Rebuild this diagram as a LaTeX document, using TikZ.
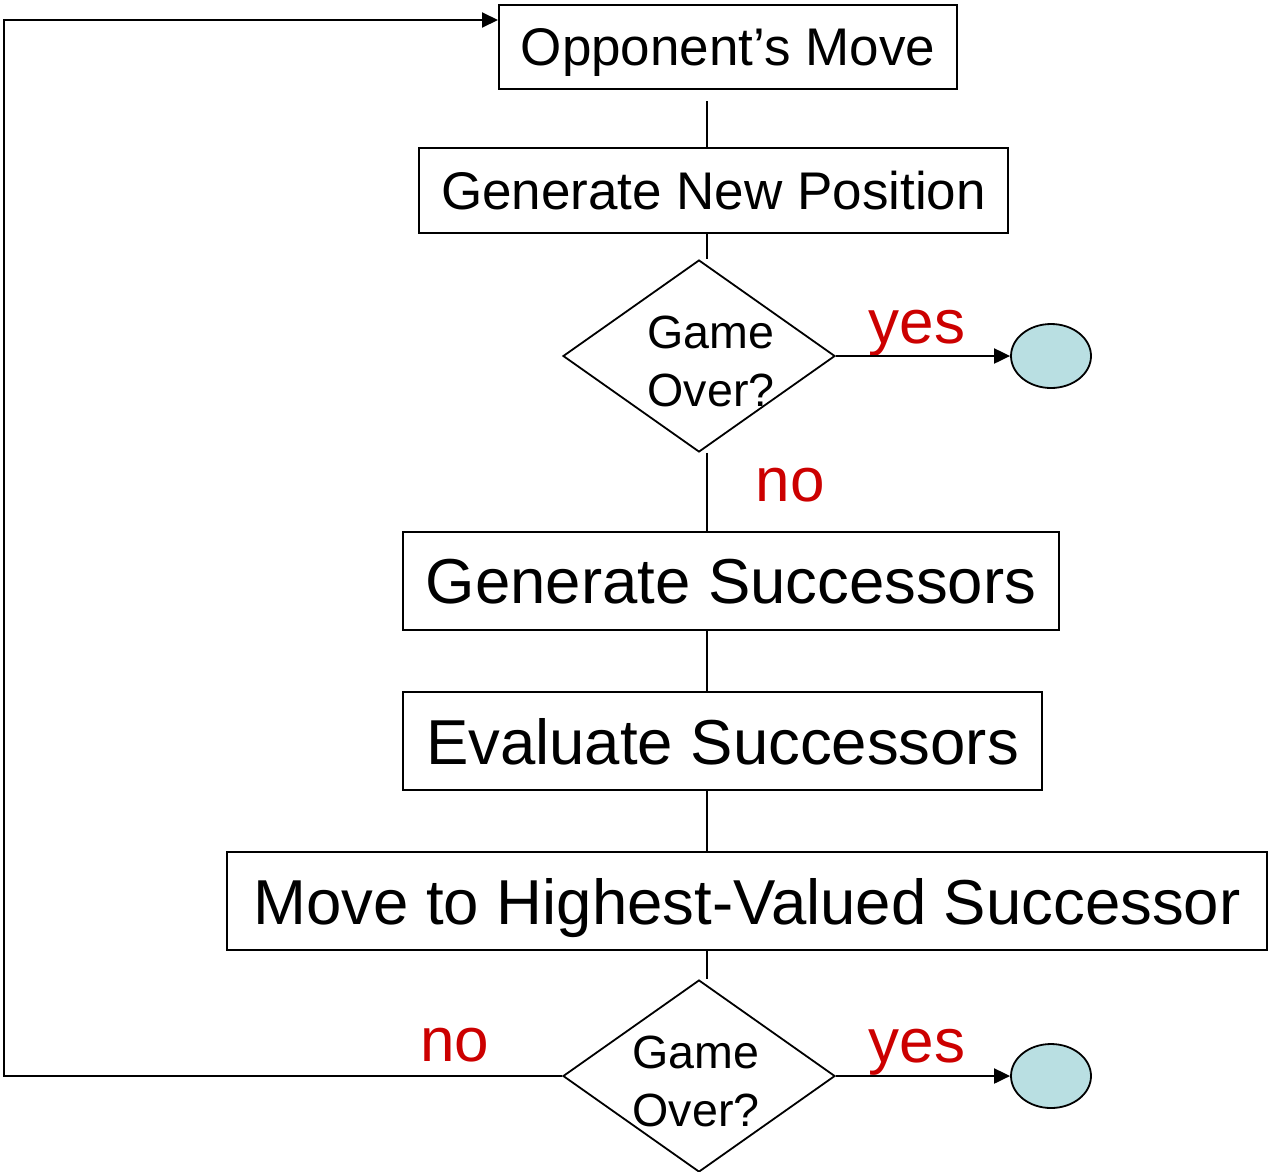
\documentclass[tikz,border=0pt]{standalone}
\usepackage{fontspec}
\setmainfont{Liberation Sans}
\usetikzlibrary{shapes.geometric,arrows.meta}
\definecolor{termfill}{HTML}{B9DFE2}
\definecolor{lblred}{HTML}{CC0000}
\begin{document}
\begin{tikzpicture}[x=1pt,y=-1pt,line width=2pt,
  box/.style={draw,line width=2pt,inner sep=0pt,text depth=0pt,fill=white},
  fmid/.style={font=\fontsize{53}{60}\selectfont},
  fbig/.style={font=\fontsize{63.5}{72}\selectfont},
  dia/.style={draw,diamond,line width=1.8pt,inner sep=0pt,minimum width=272pt,minimum height=192pt},
  dtext/.style={align=center,inner sep=0pt,font=\fontsize{46.6}{58}\selectfont},
  term/.style={draw,ellipse,line width=1.8pt,fill=termfill,minimum width=80pt,minimum height=64pt,inner sep=0pt},
  lbl/.style={text=lblred,anchor=base,inner sep=0pt,font=\fontsize{62}{70}\selectfont},
  arr/.style={-{Triangle[length=16pt,width=15pt]}}]
\useasboundingbox (0,0) rectangle (1268,1171);
\coordinate (sp) at (707,0);
\node[box,fmid,minimum width=458pt,minimum height=84pt] (b1) at (728,47) {Opponent’s Move};
\node[box,fmid,minimum width=589pt,minimum height=85pt] (b2) at (713.5,190.5) {Generate New Position};
\node[dia] (d1) at (699,356) {};
\node[dtext] (t1) at (711,361) {Game\\Over?};
\node[term] (e1) at (1051,356) {};
\node[box,fbig,minimum width=656pt,minimum height=98pt] (b3) at (731,581) {Generate Successors};
\node[box,fbig,minimum width=639pt,minimum height=98pt] (b4) at (722.5,741) {Evaluate Successors};
\node[box,fbig,minimum width=1040pt,minimum height=98pt] (b5) at (747,901) {Move to Highest-Valued Successor};
\node[dia] (d2) at (699,1076) {};
\node[dtext] (t2) at (696,1081) {Game\\Over?};
\node[term] (e2) at (1051,1076) {};
\node[lbl] (y1) at (917,343) {yes};
\node[lbl] (n1) at (790,501) {no};
\node[lbl] (y2) at (917,1062) {yes};
\node[lbl] (n2) at (455,1061) {no};
\coordinate (lb) at (4,1076);
\coordinate (lc) at (4,20);
\draw[shorten <=11pt] (b1.south -| sp) -- (b2.north -| sp);
\draw (b2.south -| sp) -- (d1.north -| sp);
\draw (d1.south -| sp) -- (b3.north -| sp);
\draw (b3.south -| sp) -- (b4.north -| sp);
\draw (b4.south -| sp) -- (b5.north -| sp);
\draw (b5.south -| sp) -- (d2.north -| sp);
\draw[arr] (d1.east) -- (e1.west);
\draw[arr] (d2.east) -- (e2.west);
\draw[arr] (d2.west) -- (lb) -- (lc) -- (lc -| b1.west);
\end{tikzpicture}
\end{document}
